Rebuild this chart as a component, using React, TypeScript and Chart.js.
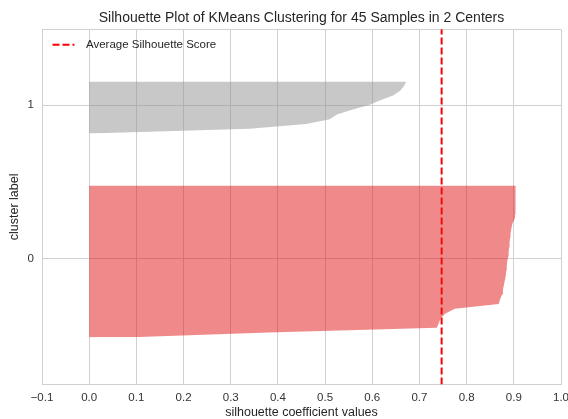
import { useEffect, useRef } from 'react';
import { Chart, registerables } from 'chart.js';

Chart.register(...registerables);

const chartTitle = 'Silhouette Plot of KMeans Clustering for 45 Samples in 2 Centers';
const xAxisTitle = 'silhouette coefficient values';
const yAxisTitle = 'cluster label';
const legendLabel = 'Average Silhouette Score';

const clusterLabels = ['0', '1'];
// sorted silhouette values per cluster (ascending)
const cluster0Values = [
  0.09, 0.38, 0.737, 0.741, 0.745, 0.755, 0.775, 0.868, 0.871, 0.875, 0.877,
  0.879, 0.881, 0.883, 0.884, 0.885, 0.886, 0.888, 0.889, 0.89, 0.891, 0.892,
  0.893, 0.895, 0.897, 0.902, 0.903, 0.903, 0.903, 0.904, 0.904, 0.904, 0.904,
];
const cluster1Values = [
  0.0, 0.34, 0.46, 0.51, 0.525, 0.557, 0.593, 0.617, 0.644, 0.659, 0.667, 0.672,
];
const averageScore = 0.747;
const xTickValues = [-0.1, 0, 0.1, 0.2, 0.3, 0.4, 0.5, 0.6, 0.7, 0.8, 0.9, 1.0];
const clusterColors = ['rgba(226, 22, 22, 0.5)', 'rgba(145, 145, 145, 0.5)'];

const FONT = '"Liberation Sans", Arial, Helvetica, sans-serif';
const GRID = '#d0d0d0';
const TEXT = '#262626';
const GAP = 10;

const legendPlugin = {
  id: 'insideLegend',
  afterDraw(chart: any) {
    const { ctx, chartArea } = chart;
    const ds = chart.data.datasets[chart.data.datasets.length - 1];
    const x0 = chartArea.left + 10.5;
    const y = chartArea.top + 15.5;
    ctx.save();
    ctx.strokeStyle = ds.borderColor;
    ctx.lineWidth = 2;
    ctx.setLineDash([7, 3]);
    ctx.beginPath();
    ctx.moveTo(x0, y);
    ctx.lineTo(x0 + 22, y);
    ctx.stroke();
    ctx.setLineDash([]);
    ctx.fillStyle = TEXT;
    ctx.font = `11.5px ${FONT}`;
    ctx.textBaseline = 'middle';
    ctx.textAlign = 'left';
    ctx.fillText(ds.label, x0 + 33.5, y);
    ctx.restore();
  },
};

export default function App() {
  const ref = useRef<HTMLCanvasElement | null>(null);

  useEffect(() => {
    if (!ref.current) return;
    const clusters = [cluster0Values, cluster1Values];
    const datasets: any[] = [];
    const yTicks: { value: number; label: string }[] = [];
    let yLower = GAP;
    clusters.forEach((vals, k) => {
      datasets.push({
        label: 'cluster ' + clusterLabels[k],
        data: vals.map((v, i) => ({ x: v, y: yLower + i })),
        backgroundColor: clusterColors[k],
        borderColor: 'rgba(0,0,0,0)',
        borderWidth: 0,
        pointRadius: 0,
        tension: 0,
        fill: 'origin',
      });
      yTicks.push({ value: yLower + 0.5 * vals.length, label: clusterLabels[k] });
      yLower += vals.length + GAP;
    });
    const total = clusters.reduce((s, c) => s + c.length, 0);
    const yMax = total + (clusters.length + 1) * GAP;

    datasets.push({
      label: legendLabel,
      data: [
        { x: averageScore, y: 0 },
        { x: averageScore, y: yMax },
      ],
      borderColor: '#ff0000',
      borderWidth: 2,
      borderDash: [7, 3],
      pointRadius: 0,
      fill: false,
    });

    const chart = new Chart(ref.current, {
      type: 'line',
      data: { datasets },
      plugins: [legendPlugin],
      options: {
        indexAxis: 'y',
        animation: false,
        responsive: false,
        devicePixelRatio: 1,
        layout: { padding: { left: 0, right: 7, top: 0, bottom: 0 } },
        plugins: {
          legend: { display: false },
          tooltip: { enabled: false },
          title: {
            display: true,
            text: chartTitle,
            fullSize: false,
            color: TEXT,
            font: { family: FONT, size: 14, weight: 'normal', lineHeight: 1.2 },
            padding: { top: 10, bottom: 2.5 },
          },
        },
        scales: {
          x: {
            type: 'linear',
            min: -0.1,
            max: 1.0,
            afterBuildTicks: (axis: any) => {
              axis.ticks = xTickValues.map((v) => ({ value: v }));
            },
            afterFit: (axis: any) => {
              axis.height = 34.5;
              axis.paddingLeft = 0;
              axis.paddingRight = 0;
            },
            ticks: {
              autoSkip: false,
              maxRotation: 0,
              padding: 6,
              color: '#333',
              font: { family: FONT, size: 11.5 },
              callback: (v: any) => {
                const n = Number(v);
                return n < 0 ? '\u2212' + Math.abs(n).toFixed(1) : n.toFixed(1);
              },
            },
            grid: { color: GRID, lineWidth: 1, drawTicks: false },
            border: { color: GRID },
            title: {
              display: true,
              text: xAxisTitle,
              color: TEXT,
              font: { family: FONT, size: 12.5, lineHeight: 1 },
              padding: { top: 0, bottom: 0 },
            },
          },
          y: {
            type: 'linear',
            min: 0,
            max: yMax,
            afterBuildTicks: (axis: any) => {
              axis.ticks = [0, ...yTicks.map((t) => t.value), yMax].map((v) => ({ value: v }));
            },
            afterFit: (axis: any) => {
              axis.width = 42;
              axis.paddingTop = 0;
              axis.paddingBottom = 0;
            },
            ticks: {
              autoSkip: false,
              padding: 8,
              color: '#333',
              font: { family: FONT, size: 11.5 },
              callback: (v: any) => {
                const t = yTicks.find((tt) => Math.abs(tt.value - Number(v)) < 1e-9);
                return t ? t.label : '';
              },
            },
            grid: { color: GRID, lineWidth: 1, drawTicks: false },
            border: { color: GRID },
            title: {
              display: true,
              text: yAxisTitle,
              color: TEXT,
              font: { family: FONT, size: 12.5, lineHeight: 1.2 },
              padding: { top: 7.5, bottom: 0 },
            },
          },
        },
      } as any,
    });
    return () => chart.destroy();
  }, []);

  return (
    <div style={{ position: 'fixed', left: 0, top: 0, width: 568, height: 419, background: '#fff' }}>
      <canvas ref={ref} width={568} height={419} style={{ width: 568, height: 419, display: 'block' }} />
    </div>
  );
}
